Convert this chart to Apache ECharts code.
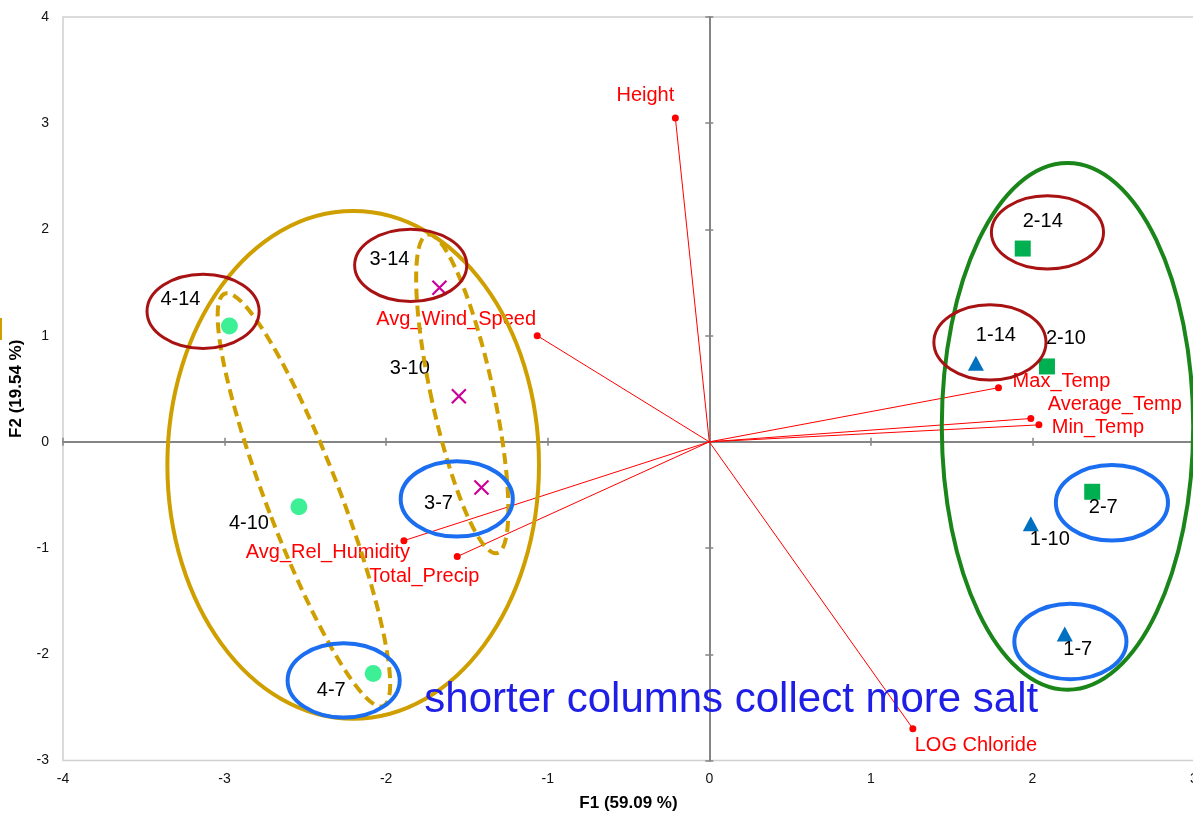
<!DOCTYPE html>
<html>
<head>
<meta charset="utf-8">
<title>Biplot F1 / F2</title>
<script src="https://cdn.jsdelivr.net/npm/echarts@6/dist/echarts.min.js"></script>
<style>
  html, body { margin: 0; padding: 0; background: #fff; }
  #chart { width: 1193px; height: 817px; }
</style>
</head>
<body>
<div id="chart"></div>
<script>
// observations: scores on F1 / F2
const obsNames = ['1-7', '1-10', '1-14', '2-7', '2-10', '2-14', '3-7', '3-10', '3-14', '4-7', '4-10', '4-14'];
const obsF1 = [2.20, 1.99, 1.65, 2.37, 2.09, 1.94, -1.41, -1.55, -1.67, -2.08, -2.54, -2.97];
const obsF2 = [-1.81, -0.77, 0.74, -0.47, 0.71, 1.82, -0.43, 0.43, 1.45, -2.18, -0.61, 1.09];

// variables: loadings (vector end points)
const varNames = ['Height', 'Avg_Wind_Speed', 'Max_Temp', 'Average_Temp', 'Min_Temp', 'Avg_Rel_Humidity', 'Total_Precip', 'LOG Chloride'];
const varF1 = [-0.21, -1.065, 1.79, 1.99, 2.04, -1.89, -1.56, 1.26];
const varF2 = [3.05, 1.00, 0.51, 0.22, 0.16, -0.93, -1.08, -2.70];

// axis ticks
const xTicks = [-4, -3, -2, -1, 0, 1, 2, 3];
const yTicks = [-3, -2, -1, 0, 1, 2, 3, 4];

const note = 'shorter columns collect more salt';

// label placement (pixels, label centre relative to the mark)
const obsLabelOffset = {
  '1-7': [13, 15], '1-10': [19, 16], '1-14': [20, -28],
  '2-7': [11, 16], '2-10': [19, -28], '2-14': [20, -27],
  '3-7': [-43, 16], '3-10': [-49, -28], '3-14': [-50, -28],
  '4-7': [-42, 17], '4-10': [-50, 17], '4-14': [-49, -27]
};
const varLabelOffset = {
  'Height': [-30, -22], 'Avg_Wind_Speed': [-81, -16], 'Max_Temp': [63, -6],
  'Average_Temp': [84, -14], 'Min_Temp': [59, 3], 'Avg_Rel_Humidity': [-76, 12],
  'Total_Precip': [-33, 20], 'LOG Chloride': [63, 17]
};

// hand drawn ellipses (data units, rot in degrees, + tilts the top to the left)
const GOLD = '#CF9F00', RED = '#A81212', BLUE = '#1B6EF0', GREEN = '#1A861A';
const ellipses = [
  { cx: -2.204, cy: -0.217, rx: 1.150, ry: 2.39, rot: 0, color: GOLD, width: 4 },
  { cx: 2.217, cy: 0.146, rx: 0.778, ry: 2.48, rot: 0, color: GREEN, width: 4 },
  { cx: -2.509, cy: -0.546, rx: 0.227, ry: 2.08, rot: 21, color: GOLD, width: 4, dash: [11, 6] },
  { cx: -1.529, cy: 0.452, rx: 0.192, ry: 1.535, rot: 12.3, color: GOLD, width: 4, dash: [11, 6] },
  { cx: -3.133, cy: 1.229, rx: 0.347, ry: 0.350, rot: 0, color: RED, width: 3 },
  { cx: -1.848, cy: 1.662, rx: 0.347, ry: 0.340, rot: 0, color: RED, width: 3 },
  { cx: 2.093, cy: 1.973, rx: 0.347, ry: 0.345, rot: 0, color: RED, width: 3 },
  { cx: 1.737, cy: 0.937, rx: 0.347, ry: 0.355, rot: 0, color: RED, width: 3 },
  { cx: -1.563, cy: -0.537, rx: 0.347, ry: 0.355, rot: 0, color: BLUE, width: 4 },
  { cx: -2.263, cy: -2.246, rx: 0.347, ry: 0.350, rot: 0, color: BLUE, width: 4 },
  { cx: 2.492, cy: -0.574, rx: 0.347, ry: 0.355, rot: 0, color: BLUE, width: 4 },
  { cx: 2.235, cy: -1.879, rx: 0.347, ry: 0.355, rot: 0, color: BLUE, width: 4 }
];
const notePos = [0.136, -2.43];

const FONT = '"Liberation Sans", Arial, Helvetica, sans-serif';

const chart = echarts.init(document.getElementById('chart'));

function groupSeries(prefix, symbol, size, itemStyle) {
  const data = [];
  obsNames.forEach((n, i) => {
    if (n.split('-')[0] !== prefix) return;
    data.push({
      name: n,
      value: [obsF1[i], obsF2[i]],
      label: { offset: obsLabelOffset[n] }
    });
  });
  return {
    type: 'scatter',
    name: 'group ' + prefix,
    symbol: symbol,
    symbolSize: size,
    itemStyle: Object.assign({ opacity: 1 }, itemStyle),
    z: 4,
    label: {
      show: true,
      position: 'inside',
      formatter: p => p.name,
      color: '#000',
      fontSize: 20,
      fontFamily: FONT
    },
    data: data
  };
}

const vectorSeries = varNames.map((n, i) => ({
  type: 'line',
  name: n,
  z: 3,
  lineStyle: { color: '#FF0000', width: 1 },
  itemStyle: { color: '#FF0000', opacity: 1 },
  symbolSize: 7,
  showSymbol: true,
  data: [
    { value: [0, 0], symbol: 'none' },
    {
      value: [varF1[i], varF2[i]],
      symbol: 'circle',
      label: {
        show: true,
        position: 'inside',
        offset: varLabelOffset[n],
        formatter: n,
        color: '#FF0000',
        fontSize: 20,
        fontFamily: FONT
      }
    }
  ]
}));

const zeroAxisLine = { show: true, onZero: true, lineStyle: { color: '#858585', width: 2 } };

const option = {
  animation: false,
  backgroundColor: '#fff',
  grid: {
    left: 63, top: 17, width: 1131, height: 743.5,
    outerBoundsMode: 'none',
    containLabel: false,
    show: true, borderColor: '#D0D0D0', borderWidth: 1.5, backgroundColor: '#fff'
  },
  xAxis: [
    {
      type: 'value', min: xTicks[0], max: xTicks[xTicks.length - 1], interval: 1,
      position: 'bottom',
      name: 'F1 (59.09 %)', nameLocation: 'middle', nameGap: 34,
      nameTextStyle: { fontSize: 17, fontWeight: 'bold', color: '#000', fontFamily: FONT },
      axisLine: { show: false, onZero: false }, axisTick: { show: false }, splitLine: { show: false },
      axisLabel: { fontSize: 14, color: '#111', fontFamily: FONT, margin: 12, showMinLabel: true, showMaxLabel: true, hideOverlap: false }
    },
    {
      type: 'value', min: -4, max: 3, interval: 1, position: 'bottom',
      axisLine: zeroAxisLine, axisTick: { show: true, length: 4, lineStyle: { color: '#858585', width: 1.5 } },
      axisLabel: { show: false }, splitLine: { show: false }
    },
    {
      type: 'value', min: -4, max: 3, interval: 1, position: 'bottom',
      axisLine: { show: false, onZero: true }, axisTick: { show: true, inside: true, length: 4, lineStyle: { color: '#858585', width: 1.5 } },
      axisLabel: { show: false }, splitLine: { show: false }
    }
  ],
  yAxis: [
    {
      type: 'value', min: yTicks[0], max: yTicks[yTicks.length - 1], interval: 1,
      position: 'left',
      name: 'F2 (19.54 %)', nameLocation: 'middle', nameGap: 38, nameRotate: 90,
      nameTextStyle: { fontSize: 17, fontWeight: 'bold', color: '#000', fontFamily: FONT },
      axisLine: { show: false, onZero: false }, axisTick: { show: false }, splitLine: { show: false },
      axisLabel: { fontSize: 14, color: '#111', fontFamily: FONT, margin: 14 }
    },
    {
      type: 'value', min: -3, max: 4, interval: 1, position: 'left',
      axisLine: zeroAxisLine, axisTick: { show: true, length: 4, lineStyle: { color: '#858585', width: 1.5 } },
      axisLabel: { show: false }, splitLine: { show: false }
    },
    {
      type: 'value', min: -3, max: 4, interval: 1, position: 'left',
      axisLine: { show: false, onZero: true }, axisTick: { show: true, inside: true, length: 4, lineStyle: { color: '#858585', width: 1.5 } },
      axisLabel: { show: false }, splitLine: { show: false }
    }
  ],
  graphic: [
    { type: 'rect', left: 0, top: 318, shape: { width: 2, height: 22 }, style: { fill: GOLD } }
  ],
  series: [
    ...vectorSeries,
    groupSeries('1', 'triangle', [16, 15], { color: '#0070C0' }),
    groupSeries('2', 'rect', 16, { color: '#00B050' }),
    groupSeries('3', 'path://M0,0L10,10M10,0L0,10', 14, { color: 'transparent', borderColor: '#CC0099', borderWidth: 2.2 }),
    groupSeries('4', 'circle', 17, { color: '#3DF096' }),
    {
      type: 'custom',
      name: 'ellipses',
      z: 6,
      clip: false,
      silent: true,
      data: ellipses.map(e => [e.cx, e.cy]),
      encode: { x: 0, y: 1 },
      renderItem(params, api) {
        const e = ellipses[params.dataIndex];
        const c = api.coord([e.cx, e.cy]);
        const s = api.size([e.rx, e.ry]);
        return {
          type: 'ellipse',
          x: c[0],
          y: c[1],
          rotation: e.rot * Math.PI / 180,
          shape: { cx: 0, cy: 0, rx: s[0], ry: s[1] },
          style: { fill: 'transparent', stroke: e.color, lineWidth: e.width, lineDash: e.dash || null }
        };
      }
    },
    {
      type: 'custom',
      name: 'note',
      z: 7,
      clip: false,
      silent: true,
      data: [notePos],
      encode: { x: 0, y: 1 },
      renderItem(params, api) {
        const c = api.coord(notePos);
        return {
          type: 'text',
          x: c[0],
          y: c[1],
          style: {
            text: note,
            fill: '#1E1EE6',
            fontSize: 42,
            fontFamily: FONT,
            align: 'center',
            verticalAlign: 'middle'
          }
        };
      }
    }
  ]
};

chart.setOption(option);
</script>
</body>
</html>
